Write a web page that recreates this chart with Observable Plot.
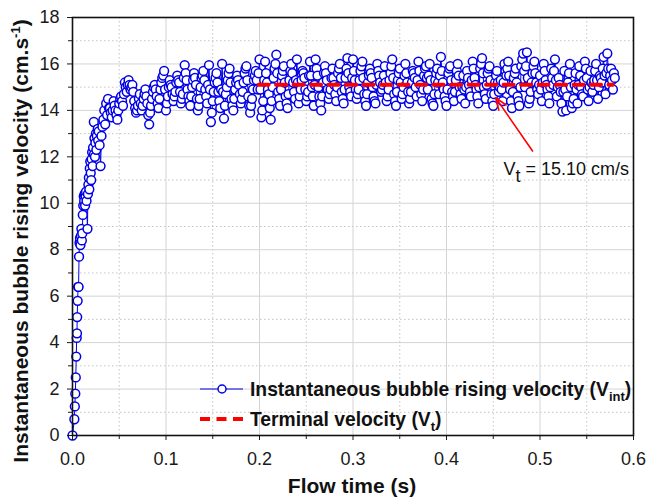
<!DOCTYPE html>
<html><head><meta charset="utf-8">
<script src="https://cdn.jsdelivr.net/npm/d3@7"></script>
<script src="https://cdn.jsdelivr.net/npm/@observablehq/plot@0.6"></script>
<style>body{margin:0;background:#fff;} svg{display:block}</style>
</head><body><div id="chart"></div>
<script>
// Rise phase (flow time s, velocity cm/s)
const earlyTime = [0, 0.002, 0.0025, 0.003, 0.0035, 0.004, 0.0045, 0.0048, 0.005, 0.0055, 0.006, 0.0065, 0.007,
  0.0075, 0.008, 0.0085, 0.009, 0.0095, 0.010, 0.0105, 0.011, 0.0115, 0.012, 0.0125, 0.013, 0.0135, 0.014, 0.0145, 0.015,
  0.016, 0.0165, 0.017, 0.0175, 0.018, 0.0185, 0.019, 0.0195, 0.020, 0.0205, 0.021, 0.0215, 0.022, 0.0228, 0.023, 0.0235,
  0.024, 0.0245, 0.025, 0.0255, 0.026, 0.027, 0.0275, 0.028, 0.029, 0.030, 0.031, 0.032, 0.033, 0.034, 0.035, 0.036, 0.037, 0.038, 0.039];
const earlyVelocity = [0.0, 0.7, 1.25, 1.8, 2.5, 3.4, 4.2, 4.4, 5.1, 5.8, 6.4, 6.4, 7.7,
  8.3, 8.5, 8.2, 8.6, 8.9, 8.4, 8.7, 9.5, 9.9, 10.3, 10.1, 10.4, 9.9, 10.3, 10.5, 10.1,
  8.9, 10.4, 10.8, 11.1, 10.6, 11.5, 11.8, 11.3, 11.0, 11.9, 12.2, 11.6, 12.4, 13.5, 12.1, 12.8,
  12.0, 12.6, 13.0, 12.3, 12.9, 13.2, 12.7, 13.1, 12.5, 11.6, 12.9, 13.3, 13.6, 14.0, 13.4, 14.3, 13.8, 14.5, 14.1];
// Fluctuating phase: samples A every 0.002 s from 0.040 s, samples B every 0.002 s from 0.041 s
const plateauStartA = 0.040;
const plateauStartB = 0.041;
const plateauStep = 0.002;
const plateauVelocityA = [
  14.1, 13.7, 14.4, 14.0, 13.6, 14.3, 14.6, 14.2, 15.2, 14.8,
  15.3, 14.9, 15.1, 14.4, 13.9, 14.2, 14.7, 14.0, 14.5, 14.9,
  14.3, 13.4, 14.2, 14.8, 15.1, 14.6, 14.1, 14.9, 15.4, 15.7,
  14.0, 14.6, 15.3, 15.0, 14.4, 14.8, 15.5, 15.2, 14.3, 14.7,
  15.95, 15.3, 14.6, 14.2, 15.0, 15.6, 15.1, 14.0, 14.5, 15.4,
  15.7, 14.9, 14.3, 15.95, 13.5, 14.4, 15.2, 15.6, 14.8, 14.1,
  16.0, 13.65, 14.7, 15.3, 15.8, 14.5, 14.0, 14.9, 15.5, 15.1,
  14.3, 14.8, 15.6, 15.9, 14.6, 13.9, 14.5, 15.3, 15.7, 14.9,
  16.2, 13.7, 14.4, 16.1, 15.2, 14.7, 13.6, 15.0, 15.8, 16.4,
  14.8, 14.2, 15.5, 15.9, 14.6, 14.1, 15.3, 16.0, 15.2, 14.5,
  16.2, 14.3, 14.9, 15.7, 15.4, 14.4, 14.8, 16.1, 15.0, 14.2,
  16.2, 15.5, 14.6, 14.0, 15.2, 15.9, 15.3, 14.5, 14.9, 15.8,
  15.1, 14.4, 15.6, 16.0, 14.8, 14.3, 15.4, 16.25, 15.0, 14.6,
  16.2, 15.3, 14.5, 14.9, 15.7, 16.1, 14.7, 14.2, 15.2, 15.8,
  15.4, 14.6, 14.3, 16.0, 15.5, 14.8, 15.1, 15.9, 14.4, 14.9,
  15.6, 16.2, 14.7, 14.2, 15.3, 15.8, 14.5, 15.0, 16.0, 15.2,
  14.3, 14.8, 15.7, 15.4, 14.6, 16.1, 15.1, 14.4, 15.5, 15.9,
  14.9, 16.0, 14.5, 14.2, 15.3, 15.8, 14.7, 16.3, 15.2, 14.6,
  14.2, 15.6, 15.9, 14.8, 14.4, 15.3, 16.0, 15.0, 14.5, 15.5,
  14.3, 15.7, 15.1, 14.6, 16.1, 15.4, 14.9, 14.3, 15.8, 16.25,
  15.0, 14.5, 15.6, 15.9, 14.7, 14.2, 15.2, 15.7, 14.8, 15.3,
  14.4, 16.0, 15.5, 16.1, 14.9, 14.1, 15.4, 15.8, 14.6, 14.2,
  15.9, 16.45, 15.0, 16.5, 14.3, 14.8, 15.6, 16.1, 15.2, 14.7,
  15.5, 14.4, 16.0, 15.3, 14.9, 14.3, 15.8, 15.1, 16.2, 14.6,
  15.4, 14.8, 13.95, 15.7, 14.0, 15.2, 16.0, 14.1, 14.5, 15.6,
  14.3, 15.9, 15.0, 14.6, 16.1, 15.4, 14.4, 15.7, 14.8, 15.3,
  16.0, 14.5, 15.5, 15.2, 16.3, 14.7, 16.45, 15.1, 15.8, 14.9,
  15.4];
const plateauVelocityB = [
  13.9, 14.0, 14.2, 13.8, 14.0, 14.5, 14.4, 14.7, 15.0, 15.1,
  15.1, 15.0, 14.8, 14.1, 14.0, 14.5, 14.3, 14.2, 14.7, 14.6,
  13.8, 13.9, 14.5, 15.0, 14.9, 14.3, 14.5, 15.2, 15.5, 14.9,
  14.3, 15.0, 15.1, 14.7, 14.6, 15.2, 15.3, 14.8, 14.5, 15.4,
  15.6, 14.9, 14.4, 14.6, 15.3, 15.4, 14.5, 14.2, 15.0, 15.5,
  15.3, 14.6, 15.1, 14.9, 13.9, 14.8, 15.4, 15.2, 14.4, 14.9,
  14.8, 14.2, 15.0, 15.6, 15.2, 14.2, 14.5, 15.2, 15.3, 14.7,
  14.5, 15.2, 15.8, 15.3, 14.2, 14.2, 14.9, 15.5, 15.3, 15.6,
  14.9, 14.0, 15.3, 15.6, 14.9, 14.1, 14.4, 15.4, 16.0, 15.6,
  14.5, 14.9, 15.7, 15.2, 14.3, 14.7, 15.7, 15.6, 14.8, 15.3,
  15.2, 14.6, 15.3, 15.6, 14.9, 14.6, 15.5, 15.5, 14.6, 15.1,
  15.8, 15.0, 14.3, 14.6, 15.6, 15.6, 14.9, 14.7, 15.4, 15.4,
  14.7, 15.0, 15.8, 15.4, 14.5, 14.9, 15.8, 15.6, 14.8, 15.4,
  15.7, 14.9, 14.7, 15.3, 15.9, 15.4, 14.4, 14.7, 15.5, 15.6,
  15.0, 14.4, 15.1, 15.7, 15.2, 14.9, 15.5, 15.2, 14.6, 15.3,
  15.9, 15.4, 14.4, 14.8, 15.6, 15.2, 14.7, 15.5, 15.6, 14.8,
  14.5, 15.2, 15.6, 15.0, 15.3, 15.7, 14.7, 14.9, 15.8, 15.4,
  15.5, 15.3, 14.3, 14.7, 15.6, 15.2, 15.5, 15.7, 14.9, 14.4,
  14.9, 15.8, 15.3, 14.6, 14.8, 15.7, 15.5, 14.7, 15.0, 14.9,
  15.0, 15.4, 14.8, 15.3, 15.8, 15.1, 14.6, 15.0, 16.0, 15.6,
  14.7, 15.1, 15.8, 15.3, 14.4, 14.7, 15.5, 15.2, 15.0, 14.9,
  15.2, 15.7, 15.8, 15.5, 14.4, 14.8, 15.6, 15.2, 14.4, 15.0,
  16.2, 15.7, 15.9, 15.4, 14.5, 15.2, 15.9, 15.6, 14.9, 15.1,
  14.9, 15.2, 15.7, 15.1, 14.6, 15.0, 15.4, 15.7, 15.3, 15.0,
  15.1, 14.3, 14.8, 14.9, 14.6, 15.6, 15.0, 14.3, 15.1, 14.9,
  15.1, 15.5, 14.7, 15.3, 15.8, 14.9, 15.0, 15.2, 15.1, 15.7,
  15.3, 15.0, 15.4, 15.8, 15.5, 15.6, 15.8, 15.5, 15.3, 15.6];
const terminalVelocity = 15.10;
const terminalTime = [0.199, 0.578];
// annotation arrow: tail and head (time, velocity), label anchor
const arrowTail = [0.492, 12.25];
const arrowHead = [0.4525, 14.55];
const annotationAt = [0.4615, 11.2];

const xMajor = [0, 0.1, 0.2, 0.3, 0.4, 0.5, 0.6];
const xMinor = [0.05, 0.15, 0.25, 0.35, 0.45, 0.55];
const yMajor = [0, 2, 4, 6, 8, 10, 12, 14, 16, 18];
const yMinor = [1, 3, 5, 7, 9, 11, 13, 15, 17];

const series = earlyTime.map((t, i) => ({t, v: earlyVelocity[i]}))
  .concat(plateauVelocityA.map((v, i) => ({t: +(plateauStartA + i * plateauStep).toFixed(4), v})))
  .concat(plateauVelocityB.map((v, i) => ({t: +(plateauStartB + i * plateauStep).toFixed(4), v})))
  .sort((a, b) => a.t - b.t);
const terminal = terminalTime.map(t => ({t, v: terminalVelocity}));
const blue = "#0000e6", red = "#ff0000";
const font = "'Liberation Sans', Arial, sans-serif";

const plot = Plot.plot({
  width: 646, height: 500,
  marginLeft: 72, marginRight: 13, marginTop: 17, marginBottom: 65,
  style: {fontFamily: font, fontSize: "18px", color: "#1a1a1a", background: "#fff"},
  x: {domain: [0, 0.6], axis: null, label: null},
  y: {domain: [0, 18], axis: null, label: null},
  marks: [
    Plot.gridX(xMinor, {stroke: "#c4c4c4", strokeOpacity: 1, strokeDasharray: "1.5,2.5"}),
    Plot.gridY(yMinor, {stroke: "#c4c4c4", strokeOpacity: 1, strokeDasharray: "1.5,2.5"}),
    Plot.gridX(xMajor, {stroke: "#d4d4d4", strokeOpacity: 1}),
    Plot.gridY(yMajor, {stroke: "#d4d4d4", strokeOpacity: 1}),
    Plot.line(series, {x: "t", y: "v", stroke: blue, strokeWidth: 1}),
    Plot.dot(series, {x: "t", y: "v", r: 4.4, stroke: blue, strokeWidth: 1.5, fill: "white"}),
    Plot.line(terminal, {x: "t", y: "v", stroke: red, strokeWidth: 4, strokeDasharray: "10,7.5"}),
    Plot.arrow([0], {x1: () => arrowTail[0], y1: () => arrowTail[1], x2: () => arrowHead[0], y2: () => arrowHead[1],
      stroke: red, strokeWidth: 1.6, headLength: 12, headAngle: 40}),
    Plot.axisX(xMajor, {tickSize: 5, tickPadding: 12, tickFormat: d => d.toFixed(1), label: null, fontSize: 18}),
    Plot.axisX(xMinor, {tickSize: 4, fill: "none", label: null}),
    Plot.axisY(yMajor, {tickSize: 5, tickPadding: 8, label: null, fontSize: 18}),
    Plot.axisY(yMinor, {tickSize: 4, fill: "none", label: null}),
    Plot.frame({stroke: "#111", strokeWidth: 1.6})
  ]
});
document.getElementById("chart").append(plot);

const svg = d3.select(plot);
const sx = plot.scale("x"), sy = plot.scale("y");

function richText(parent, x, y, parts, attrs) {
  const t = parent.append("text").attr("x", x).attr("y", y).attr("font-family", font).attr("text-anchor", "start");
  for (const [k, v] of Object.entries(attrs || {})) t.attr(k, v);
  for (const p of parts) {
    const ts = t.append("tspan").text(p.text);
    if (p.dy) ts.attr("dy", p.dy);
    if (p.size) ts.attr("font-size", p.size);
  }
  return t;
}

// Axis titles
richText(svg, 352, 493, [{text: "Flow time (s)"}],
  {"text-anchor": "middle", "font-size": 21, "font-weight": "bold", fill: "#111"});
const yl = svg.append("g").attr("transform", "translate(28,241) rotate(-90)");
richText(yl, 0, 0, [{text: "Instantaneous bubble rising velocity (cm.s"}, {text: "-1", dy: -8, size: 13}, {text: ")", dy: 8}],
  {"text-anchor": "middle", "font-size": 21, "font-weight": "bold", fill: "#111"});

// Annotation
richText(svg, sx.apply(annotationAt[0]), sy.apply(annotationAt[1]),
  [{text: "V"}, {text: "t", dy: 7, size: 18}, {text: " = 15.10 cm/s", dy: -7}],
  {"font-size": 18, fill: "#111"});

// Legend
const lg = svg.append("g").attr("transform", "translate(200,389)");
lg.append("line").attr("x1", 0).attr("x2", 43).attr("y1", 0).attr("y2", 0).attr("stroke", blue).attr("stroke-width", 1);
lg.append("circle").attr("cx", 22).attr("cy", 0).attr("r", 4).attr("fill", "white").attr("stroke", blue).attr("stroke-width", 1.5);
richText(lg, 50, 6.5, [{text: "Instantaneous bubble rising velocity (V"}, {text: "int", dy: 5, size: 13}, {text: ")", dy: -5}],
  {"font-size": 19.3, "font-weight": "bold", fill: "#111"});
lg.append("line").attr("x1", 0).attr("x2", 43).attr("y1", 30).attr("y2", 30).attr("stroke", red).attr("stroke-width", 4).attr("stroke-dasharray", "10,6.5");
richText(lg, 50, 36.5, [{text: "Terminal velocity (V"}, {text: "t", dy: 5, size: 13}, {text: ")", dy: -5}],
  {"font-size": 19.3, "font-weight": "bold", fill: "#111"});
</script>
</body></html>
